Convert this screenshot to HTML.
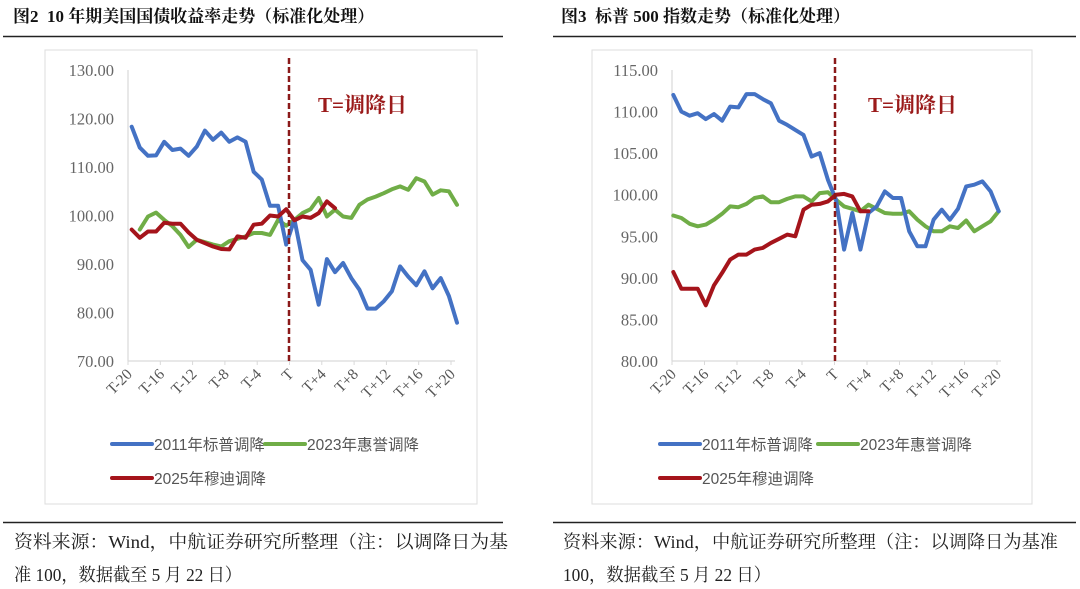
<!DOCTYPE html>
<html><head><meta charset="utf-8">
<style>
html,body{margin:0;padding:0;background:#fff;}
svg{display:block;font-family:"Liberation Serif","Noto Serif CJK SC",serif;}
</style></head>
<body>
<svg id="s" width="1080" height="589" viewBox="0 0 1080 589" xmlns="http://www.w3.org/2000/svg">
<text x="13" y="22" font-size="17" font-weight="bold" fill="#111" xml:space="preserve">图2  10 年期美国国债收益率走势（标准化处理）</text>
<line x1="3" y1="36.5" x2="503" y2="36.5" stroke="#222" stroke-width="1.5"/>
<text x="561" y="22" font-size="17" font-weight="bold" fill="#111" xml:space="preserve">图3  标普 500 指数走势（标准化处理）</text>
<line x1="553" y1="36.5" x2="1076" y2="36.5" stroke="#222" stroke-width="1.5"/>
<rect x="45" y="50" width="432" height="454" fill="#fff" stroke="#ddd"/>
<rect x="592" y="50" width="440" height="454" fill="#fff" stroke="#ddd"/>
<line x1="3" y1="522.5" x2="503" y2="522.5" stroke="#222" stroke-width="1.5"/>
<line x1="553" y1="522.5" x2="1076" y2="522.5" stroke="#222" stroke-width="1.5"/>
<text x="14" y="548" font-size="18" fill="#222" textLength="494" lengthAdjust="spacingAndGlyphs">资料来源：Wind，中航证券研究所整理（注：以调降日为基</text>
<text x="14" y="581" font-size="18" fill="#222" textLength="228" lengthAdjust="spacingAndGlyphs">准 100，数据截至 5 月 22 日）</text>
<text x="563" y="548" font-size="18" fill="#222" textLength="495" lengthAdjust="spacingAndGlyphs">资料来源：Wind，中航证券研究所整理（注：以调降日为基准</text>
<text x="563" y="581" font-size="18" fill="#222" textLength="208" lengthAdjust="spacingAndGlyphs">100，数据截至 5 月 22 日）</text>
<g id="c1"></g><g id="c2"></g>
</svg>
<script>
const categories = ["T-20","T-16","T-12","T-8","T-4","T","T+4","T+8","T+12","T+16","T+20"];
const c1Ticks = [70,80,90,100,110,120,130];
const c1Blue = [118.3,114,112.3,112.4,115.2,113.5,113.8,112.3,114.2,117.5,115.6,117.1,115.2,116.1,115.2,109,107.4,102,102,94,99.2,90.8,88.8,81.6,91,88.3,90.2,87.1,84.7,80.8,80.8,82.3,84.4,89.5,87.4,85.6,88.5,85,87.1,83.4,77.9];
const c1Green = [null,97.1,99.8,100.6,99.1,97.8,96,93.5,95,94.5,94,93.6,94.7,95.2,95.7,96.4,96.4,96,99.1,97.9,99.1,100.5,101.3,103.6,99.8,101.2,99.8,99.5,102.2,103.3,103.9,104.6,105.4,106,105.3,107.7,107,104.3,105.2,105,102.2];
const c1Red = [97.1,95.4,96.7,96.7,98.5,98.3,98.3,96.5,95,94.3,93.6,93.1,93,95.7,95.4,98.1,98.3,100,99.8,101.3,99,99.8,99.5,100.5,102.9,101.5];
const c2Ticks = [80,85,90,95,100,105,110,115];
const c2Blue = [112,110,109.5,109.8,109.1,109.7,108.9,110.6,110.5,112.1,112.1,111.5,111,108.9,108.4,107.8,107.2,104.6,105,101.8,99.4,93.4,97.8,93.4,97.8,98.6,100.4,99.6,99.6,95.6,93.8,93.8,97,98.2,97,98.3,101,101.2,101.6,100.4,98];
const c2Green = [97.5,97.2,96.5,96.2,96.4,97,97.7,98.6,98.5,98.9,99.6,99.8,99.1,99.1,99.5,99.8,99.8,99.2,100.2,100.3,99.4,98.6,98.3,98,98.8,98.3,97.8,97.7,97.7,98,97,96.2,95.6,95.6,96.2,96,96.9,95.6,96.2,96.8,98];
const c2Red = [90.7,88.7,88.7,88.7,86.7,89.1,90.6,92.2,92.8,92.8,93.4,93.6,94.2,94.7,95.2,95,98.2,98.8,98.9,99.2,100,100.1,99.8,98,98];
const seriesNames = ["2011年标普调降","2023年惠誉调降","2025年穆迪调降"];
const colors = ["#4472c4","#70ad47","#a5141b"];
const NS="http://www.w3.org/2000/svg";
function mk(parent,tag,attrs){const e=document.createElementNS(NS,tag);for(const k in attrs)e.setAttribute(k,attrs[k]);parent.appendChild(e);return e;}
function chart(gid,cfg){
  const g=document.getElementById(gid);
  const {x0,x1,yTop,yBot,min,max,ticks,series,tickX0,tickX1,dashX}=cfg;
  const n=41;
  const xs=i=>x0+(x1-x0)*i/(n-1);
  const ys=v=>yBot-(v-min)/(max-min)*(yBot-yTop);
  let a=mk(g,'line',{x1:tickX0,y1:yTop,x2:tickX0,y2:yBot,stroke:'#d9d9d9','stroke-width':1.2});
  
  
  a=mk(g,'line',{x1:tickX0,y1:yBot,x2:tickX1+4,y2:yBot,stroke:'#d9d9d9','stroke-width':1.2});
  
  
  ticks.forEach(t=>{
    const tx=mk(g,'text',{x:tickX0-14,y:ys(t)+6,'font-size':16.5,fill:'#666','text-anchor':'end'});
    tx.textContent=t.toFixed(2);
    
    
  });
  categories.forEach((c,k)=>{
    const px=tickX0+(tickX1-tickX0)*k/(categories.length-1);
    const tk=mk(g,'line',{x1:px,y1:yBot,x2:px,y2:yBot+4,stroke:'#d9d9d9'});
    
    
    const tx=mk(g,'text',{x:0,y:0,'font-size':15.5,fill:'#555','text-anchor':'end',transform:`translate(${px+5},${yBot+14}) rotate(-45)`});
    tx.textContent=c;
    
    
  });
  const order=[1,0,2];
  order.forEach(si=>{
    const data=series[si];let d='';let started=false;
    data.forEach((v,i)=>{if(v==null)return;d+=(started?'L':'M')+xs(i).toFixed(1)+','+ys(v).toFixed(1);started=true;});
    const p=mk(g,'path',{d:d,fill:'none',stroke:colors[si],'stroke-width':4,'stroke-linejoin':'round','stroke-linecap':'round'});
    
    
  });
  const dl=mk(g,'line',{x1:dashX,y1:58,x2:dashX,y2:yBot,stroke:'#8b1a1a','stroke-width':2.5,'stroke-dasharray':'6,3'});
  
  
  const lab=mk(g,'text',{x:cfg.labX,y:112,'font-size':21,'font-weight':'bold',fill:'#9b1b1b'});
  lab.textContent='T=调降日';
  
  
  const leg=cfg.leg;
  [[leg[0],444],[leg[1],444],[leg[2],478]].forEach((p,si)=>{
    const L=mk(g,'line',{x1:p[0],y1:p[1],x2:p[0]+40,y2:p[1],stroke:colors[si],'stroke-width':4,'stroke-linecap':'round'});
    
    
    const t=mk(g,'text',{x:p[0]+42,y:p[1]+6,'font-size':15.5,fill:'#555','font-family':'"Liberation Sans","Noto Sans CJK SC",sans-serif'});
    t.textContent=seriesNames[si];
    
    
  });
}
chart('c1',{x0:131.7,x1:457,yTop:70,yBot:361,min:70,max:130,ticks:c1Ticks,series:[c1Blue,c1Green,c1Red],tickX0:128,tickX1:451,dashX:289,labX:318,leg:[112,265,112]});
chart('c2',{x0:673.3,x1:998.7,yTop:70,yBot:361,min:80,max:115,ticks:c2Ticks,series:[c2Blue,c2Green,c2Red],tickX0:672,tickX1:997,dashX:835,labX:868,leg:[660,818,660]});
</script>
</body></html>
